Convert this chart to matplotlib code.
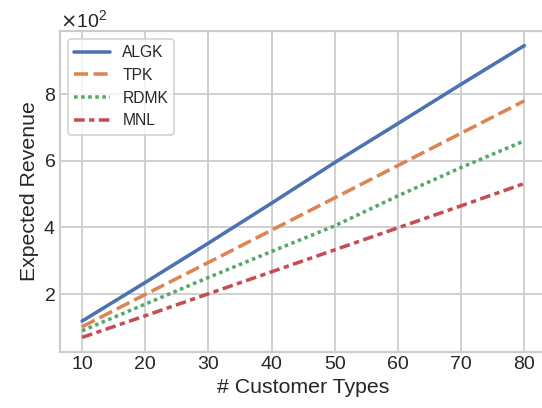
import matplotlib
matplotlib.use("Agg")
import matplotlib.pyplot as plt
import seaborn as sns

customer_types = [10, 20, 30, 40, 50, 60, 70, 80]
algk = [119, 235, 353, 473, 595, 712, 830, 946]
tpk = [102, 199, 295, 392, 489, 586, 683, 780]
rdmk = [90, 170, 250, 328, 405, 495, 580, 660]
mnl = [70, 135, 201, 267, 333, 399, 465, 532]

names = ["ALGK", "TPK", "RDMK", "MNL"]
values = [algk, tpk, rdmk, mnl]
dash_styles = [(None, None), (4, 1.5), (1, 1), (3, 1.25, 1.5, 1.25)]

sns.set_theme(style="whitegrid", context="talk")
plt.rcParams["font.family"] = ["Liberation Sans", "DejaVu Sans"]
colors = sns.color_palette("deep")

fig = plt.figure(figsize=(542 / 85, 408 / 85), dpi=85)
ax = fig.add_axes([60 / 542, 1 - 352 / 408, (546.4 - 60) / 542, (352 - 31) / 408])

for i, (name, vals, ds) in enumerate(zip(names, values, dash_styles)):
    line, = ax.plot(customer_types, vals, color=colors[i], lw=3, label=name)
    if ds[0] is not None:
        line.set_dashes(ds)
    line.set_dash_capstyle("butt")

ax.set_xlabel("# Customer Types", fontsize=18)
ax.set_ylabel("Expected Revenue", fontsize=18)
ax.set_xticks(customer_types)
ax.ticklabel_format(axis="y", style="sci", scilimits=(0, 0), useMathText=True)
ax.tick_params(labelsize=16.5, length=0)
ax.yaxis.get_offset_text().set_fontsize(16.5)
ax.legend(loc="upper left", fontsize=13.2, handlelength=2.3)

fig.savefig("out.png", dpi=85)
